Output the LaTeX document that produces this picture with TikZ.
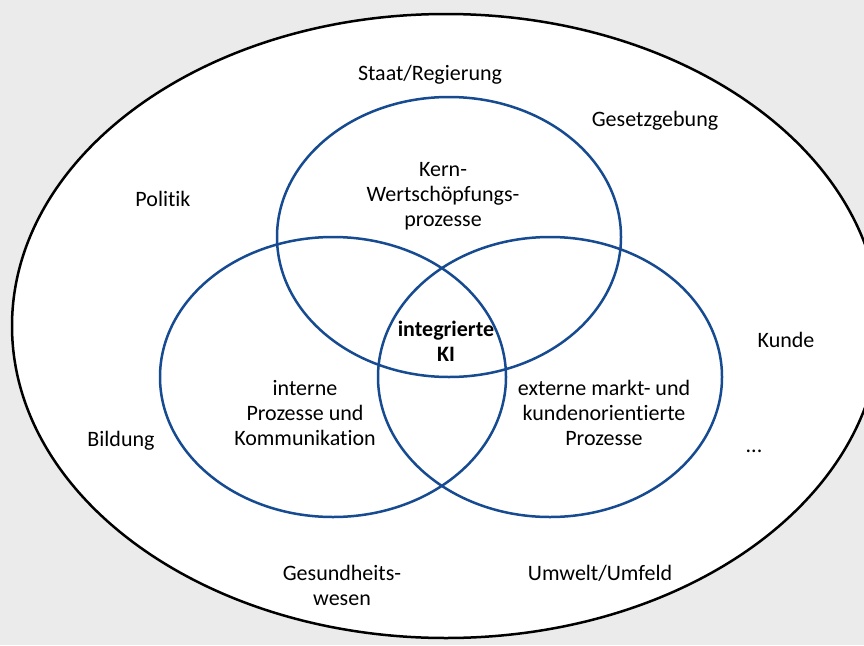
\documentclass[tikz,border=0pt]{standalone}
\usepackage{fontspec}
\setmainfont{Carlito}[Ligatures=NoCommon]

\definecolor{venn}{RGB}{23,75,145}
\definecolor{backdrop}{RGB}{235,235,235}

\begin{document}
\begin{tikzpicture}[x=1pt, y=-1pt,
  lbl/.style = {align=center, inner sep=0pt, font=\fontsize{22}{25}\selectfont},
  ring/.style = {draw=venn, line width=2.5pt}]

\useasboundingbox (0,0) rectangle (864,645);
\clip (0,0) rectangle (864,645);
\fill[backdrop] (0,0) rectangle (864,645);

\draw[fill=white, line width=2.5pt] (446,326) ellipse [x radius=434, y radius=312];

\draw[ring] (449,237) ellipse [x radius=172, y radius=140];
\draw[ring] (333,377) ellipse [x radius=173, y radius=140];
\draw[ring] (550,377) ellipse [x radius=172, y radius=140];

\node[lbl] (kern) at (443,196) {Kern-\\Wertschöpfungs-\\prozesse};
\node[lbl, font=\fontsize{22}{25}\selectfont\bfseries] (ki) at (446,341) {integrierte\\KI};
\node[lbl] (intern) at (305,413) {interne\\Prozesse und\\Kommunikation};
\node[lbl] (extern) at (604,413) {externe markt- und\\kundenorientierte\\Prozesse};

\node[lbl] (staat) at (430,75) {Staat/Regierung};
\node[lbl] (gesetz) at (655,121) {Gesetzgebung};
\node[lbl] (politik) at (163,199) {Politik};
\node[lbl] (kunde) at (786,340) {Kunde};
\node[lbl] (bildung) at (121,441) {Bildung};
\node[lbl] (mehr) at (754,451) {...};
\node[lbl] (gesund) at (342,585) {Gesundheits-\\wesen};
\node[lbl] (umwelt) at (600,573) {Umwelt/Umfeld};

\end{tikzpicture}
\end{document}
